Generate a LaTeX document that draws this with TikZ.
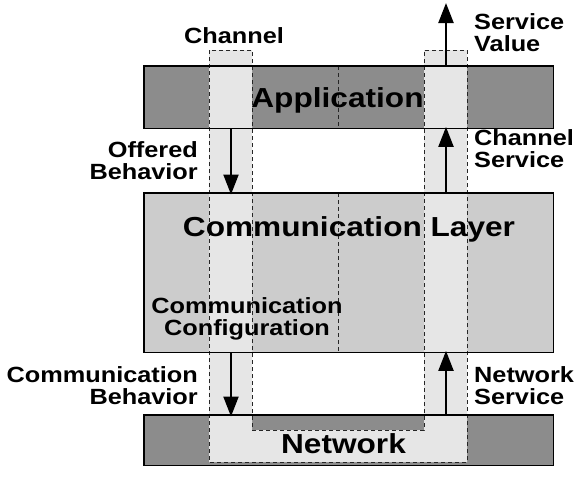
\documentclass[tikz,border=0pt]{standalone}
\usepackage{fontspec}
\setmainfont{Liberation Sans}[FakeStretch=1.15]
\usetikzlibrary{arrows.meta}
\definecolor{darkfill}{RGB}{140,140,140}
\definecolor{midfill}{RGB}{204,204,204}
\definecolor{chanfill}{RGB}{230,230,230}
\tikzset{
  boxfill/.style={draw=none, inner sep=0pt, anchor=north west},
  border/.style={draw=black, line width=1.7pt},
  chandash/.style={draw=black!85, line width=1pt, dash pattern=on 4pt off 3pt},
  arr/.style={line width=2.2pt, -{Triangle[length=20pt,width=15pt]}},
  small/.style={font=\fontsize{22}{21.5}\selectfont\bfseries, inner sep=0pt},
  big/.style={font=\fontsize{27.5}{28}\selectfont\bfseries, inner sep=0pt, anchor=base},
}
\begin{document}
\begin{tikzpicture}[x=1pt, y=-1pt]
\useasboundingbox (0,0) rectangle (576,480);
% box fills
\node[boxfill, fill=darkfill, minimum width=409pt, minimum height=62pt] (app) at (144,66) {};
\node[boxfill, fill=midfill, minimum width=409pt, minimum height=159pt] (comm) at (144,193) {};
\node[boxfill, fill=darkfill, minimum width=409pt, minimum height=50pt] (net) at (144,415) {};
% channel
\path[fill=chanfill] (209,50) -- (209,462) -- (467,462) -- (467,50) -- (424,50) -- (424,430) -- (252,430) -- (252,50) -- cycle;
% dashed lines
\draw[chandash] (338,66) -- (338,128);
\draw[chandash] (338,193) -- (338,352);
\draw[chandash] (209,50) -- (209,462) -- (467,462) -- (467,50) -- (424,50) -- (424,430) -- (252,430) -- (252,50) -- cycle;
% borders
\draw[border] (app.north west) rectangle (app.south east);
\draw[border] (comm.north west) rectangle (comm.south east);
\draw[border] (net.north west) rectangle (net.south east);
% arrows
\coordinate (lx) at (231,0);
\coordinate (rx) at (446,0);
\coordinate (sv) at (446,3);
\draw[arr] (app.south -| lx) -- ([yshift=-1.5pt]comm.north -| lx);
\draw[arr] (comm.south -| lx) -- ([yshift=-1.5pt]net.north -| lx);
\draw[arr] (comm.north -| rx) -- ([yshift=1.5pt]app.south -| rx);
\draw[arr] (net.north -| rx) -- ([yshift=1.5pt]comm.south -| rx);
\draw[arr] (app.north -| rx) -- (sv);
% texts (base anchor of multi-line nodes = last line)
\node[big] (tapp) at (337.5,107) {Application};
\node[big] (tcomm) at (349,236) {Communication Layer};
\node[big] (tnet) at (343.5,453) {Network};
\node[small, anchor=base] (tchan) at (234,43) {Channel};
\node[small, anchor=base, align=center] (tcfg) at (247,335) {Communication\\Configuration};
\node[small, anchor=base east, align=right] (toff) at (198,179) {Offered\\Behavior};
\node[small, anchor=base east, align=right] (tcb) at (198,404) {Communication\\Behavior};
\node[small, anchor=base west, align=left] (tsv) at (474,51) {Service\\Value};
\node[small, anchor=base west, align=left] (tcs) at (474,167) {Channel\\Service};
\node[small, anchor=base west, align=left] (tns) at (474,404) {Network\\Service};
\end{tikzpicture}
\end{document}
